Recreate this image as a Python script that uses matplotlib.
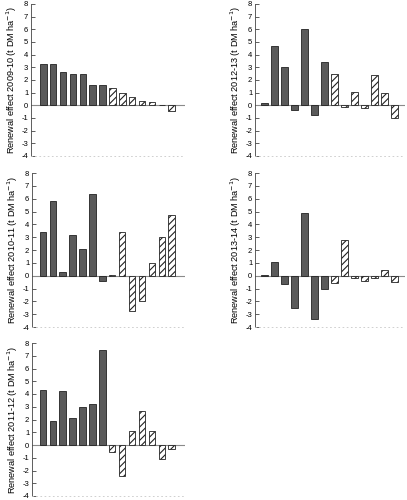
import matplotlib
matplotlib.use("Agg")
import matplotlib.pyplot as plt
import numpy as np

plt.rcParams['font.family'] = ['Liberation Sans', 'DejaVu Sans']
plt.rcParams['hatch.linewidth'] = 0.8
plt.rcParams['hatch.color'] = '#333333'

positions = list(range(1, 15))
labels = ["2009-10", "2012-13", "2010-11", "2013-14", "2011-12"]

v2009 = [3.3, 3.25, 2.6, 2.5, 2.45, 1.6, 1.6, 1.35, 1.0, 0.65, 0.35, 0.3, 0.0, -0.45]
v2012 = [0.15, 4.7, 3.05, -0.4, 6.0, -0.8, 3.4, 2.5, -0.15, 1.05, -0.2, 2.4, 0.95, -1.0]
v2010 = [3.4, 5.8, 0.3, 3.15, 2.1, 6.4, -0.45, 0.05, 3.4, -2.75, -1.95, 0.95, 3.05, 4.75]
v2013 = [0.08, 1.1, -0.65, -2.5, 4.9, -3.35, -1.05, -0.55, 2.75, -0.2, -0.45, -0.2, 0.45, -0.5]
v2011 = [4.3, 1.85, 4.2, 2.1, 3.0, 3.25, 7.45, -0.55, -2.4, 1.1, 2.7, 1.1, -1.1, -0.35]

n_solid = 7
yticks = list(range(-4, 9))

fig = plt.figure(figsize=(4.07, 5.00), dpi=100)

W, H = 407, 500
def rect(x0, y0, x1, y1):
    return [x0 / W, 1 - y1 / H, (x1 - x0) / W, (y1 - y0) / H]

panels = [
    (rect(31, 4, 185, 156), v2009, labels[0], (-0.25, 15.35)),
    (rect(255, 4, 405, 156), v2012, labels[1], (0.07, 15.07)),
    (rect(32, 173, 185, 327), v2010, labels[2], (-0.1, 15.35)),
    (rect(255, 173, 405, 327), v2013, labels[3], (0.07, 15.07)),
    (rect(32, 343, 185, 496), v2011, labels[4], (-0.1, 15.35)),
]

for r, vals, lab, xl in panels:
    ax = fig.add_axes(r)
    solid_x = positions[:n_solid]
    solid_v = vals[:n_solid]
    hatch_x = positions[n_solid:]
    hatch_v = vals[n_solid:]
    ax.bar(solid_x, solid_v, width=0.65, color='#5a5a5a', edgecolor='#222222', linewidth=0.6, zorder=3)
    ax.bar(hatch_x, hatch_v, width=0.65, color='white', edgecolor='#222222', hatch='/////', linewidth=0.6, zorder=3)
    ax.axhline(0, color='#8a8a8a', linewidth=0.8, zorder=2)
    ax.set_xlim(*xl)
    ax.set_ylim(-4, 8)
    ax.set_yticks(yticks)
    ax.set_yticklabels([str(t) for t in yticks])
    ax.tick_params(axis='y', direction='in', length=3, width=0.6, color='#444444', labelsize=5.5, pad=2)
    ax.set_xticks([])
    for s in ['top', 'right']:
        ax.spines[s].set_visible(False)
    ax.spines['left'].set_color('#444444')
    ax.spines['left'].set_linewidth(0.6)
    ax.spines['bottom'].set_color('#c8c8c8')
    ax.spines['bottom'].set_linewidth(0.6)
    ax.spines['bottom'].set_linestyle((0, (1, 4)))
    ax.set_ylabel('Renewal effect ' + lab + ' (t DM ha$^{-1}$)', fontsize=6.6, labelpad=2)
    ax.patch.set_alpha(0)

fig.savefig('out.png', dpi=100)
